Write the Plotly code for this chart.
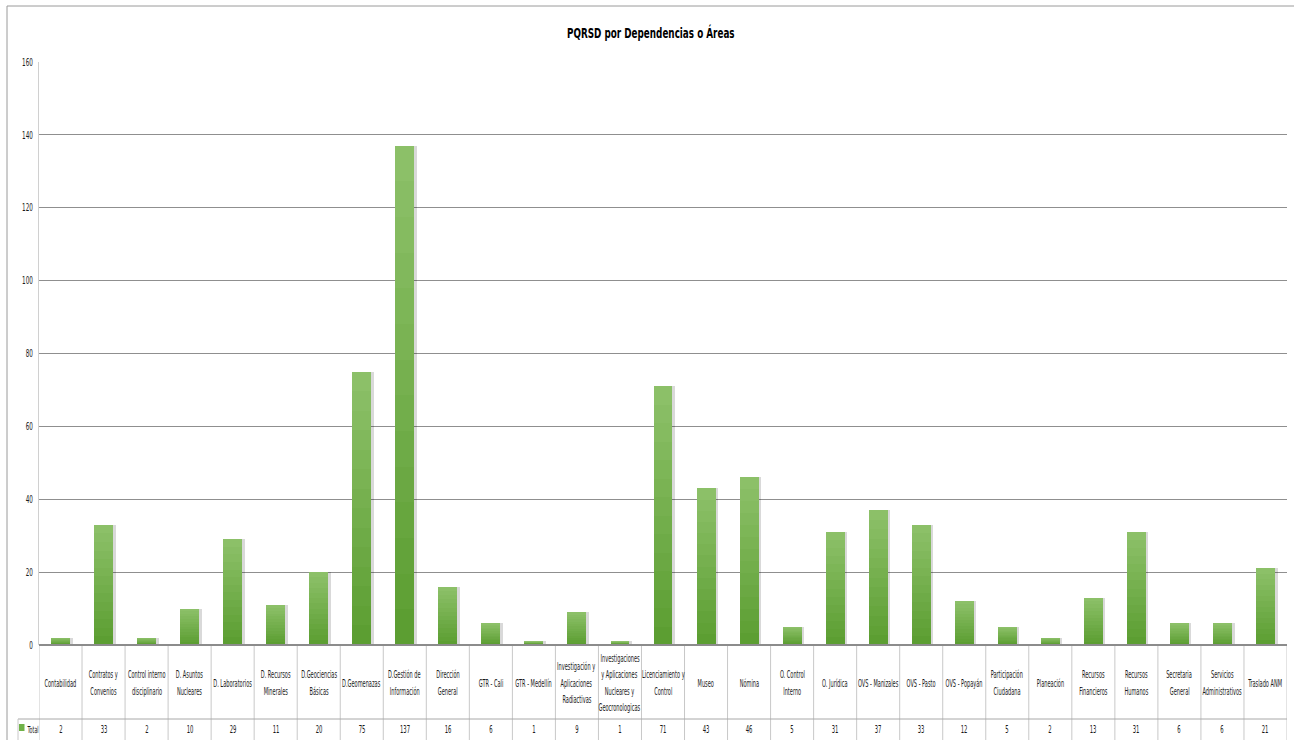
import json
import plotly.graph_objects as go

# PQRSD requests by office / area
categories = [
    "Contabilidad", "Contratos y<br>Convenios", "Control interno<br>disciplinario",
    "D. Asuntos<br>Nucleares", "D. Laboratorios", "D. Recursos<br>Minerales",
    "D.Geociencias<br>Básicas", "D.Geomenazas", "D.Gestión de<br>Información",
    "Dirección<br>General", "GTR - Cali", "GTR - Medellín",
    "Investigación y<br>Aplicaciones<br>Radiactivas",
    "Investigaciones<br>y Aplicaciones<br>Nucleares y<br>Geocronologicas",
    "Licenciamiento y<br>Control", "Museo", "Nómina", "O. Control<br>Interno",
    "O. Jurídica", "OVS - Manizales", "OVS - Pasto", "OVS - Popayán",
    "Participación<br>Ciudadana", "Planeación", "Recursos<br>Financieros",
    "Recursos<br>Humanos", "Secretaria<br>General", "Servicios<br>Administrativos",
    "Traslado ANM",
]
totals = [2, 33, 2, 10, 29, 11, 20, 75, 137, 16, 6, 1, 9, 1, 71, 43, 46, 5,
          31, 37, 33, 12, 5, 2, 13, 31, 6, 6, 21]
series_name = "Total"
chart_title = "PQRSD por Dependencias o Áreas"
y_ticks = [0, 20, 40, 60, 80, 100, 120, 140, 160]

W, H = 1294, 740
FONT = "Liberation Sans Narrow, Arial Narrow, DejaVu Sans Condensed, sans-serif"

# horizontal squeeze applied to the rendered text (narrow, Calibri-like look)
TEXT_SQUEEZE = 0.56
TITLE_SQUEEZE = 0.70
TICK_SQUEEZE = 0.60


def px(x):
    return x / W


def py(y):
    return 1 - y / H


PLOT_L, PLOT_R, PLOT_T, PLOT_B = 39, 1287, 62, 645
TABLE_ROW, TABLE_BOTTOM, LEGEND_L = 719, 740, 18
LABEL_MID, LABEL_STEP, VALUE_MID = 683, 16.5, 729

n = len(categories)
xs = list(range(n))
bar_w = 0.44

fig = go.Figure()

# soft drop shadow behind each column
fig.add_trace(go.Bar(
    x=xs, y=totals, width=bar_w, offset=-bar_w / 2 + 0.06,
    marker=dict(color="rgba(0,0,0,0.15)", line=dict(width=0)),
    showlegend=False, hoverinfo="skip",
))

# vertical green gradient: stacked overlays, lighter at the top
top_rgb = (140, 192, 104)
bot_rgb = (92, 158, 50)
steps = 14
for k in range(steps):
    t = k / (steps - 1)
    c = tuple(round(top_rgb[i] + (bot_rgb[i] - top_rgb[i]) * t) for i in range(3))
    frac = (steps - k) / steps
    fig.add_trace(go.Bar(
        x=xs, y=[v * frac for v in totals], width=bar_w,
        marker=dict(color=f"rgb{c}", line=dict(width=0)),
        name=series_name, showlegend=False,
        hovertext=[f"{categories[i].replace('<br>', ' ')}: {totals[i]}" for i in xs],
        hoverinfo="text",
    ))

shapes = []
line_grey = "#c8c8c8"
# outer chart frame
shapes.append(dict(type="line", xref="paper", yref="paper",
                   x0=px(7), x1=px(7), y0=py(6), y1=0,
                   line=dict(color="#9a9a9a", width=1)))
shapes.append(dict(type="line", xref="paper", yref="paper",
                   x0=px(7), x1=1, y0=py(6), y1=py(6),
                   line=dict(color="#9a9a9a", width=1)))
# data table grid
for i in range(n + 1):
    shapes.append(dict(type="line", xref="x", yref="paper",
                       x0=i - 0.5, x1=i - 0.5, y0=py(PLOT_B), y1=py(TABLE_BOTTOM),
                       line=dict(color=line_grey, width=1)))
shapes.append(dict(type="line", xref="paper", yref="paper",
                   x0=px(LEGEND_L), x1=px(PLOT_R), y0=py(TABLE_ROW), y1=py(TABLE_ROW),
                   line=dict(color="#a8a8a8", width=1)))
shapes.append(dict(type="line", xref="paper", yref="paper",
                   x0=px(LEGEND_L), x1=px(LEGEND_L), y0=py(TABLE_ROW), y1=py(TABLE_BOTTOM),
                   line=dict(color=line_grey, width=1)))
# legend key swatch
shapes.append(dict(type="rect", xref="paper", yref="paper",
                   x0=px(19), x1=px(24.5), y0=py(724), y1=py(731),
                   fillcolor="rgb(112,178,72)", line=dict(width=0)))
# zero line over the table header
shapes.append(dict(type="line", xref="paper", yref="paper",
                   x0=px(PLOT_L), x1=px(PLOT_R), y0=py(PLOT_B), y1=py(PLOT_B),
                   line=dict(color="#8c8c8c", width=2)))

annotations = []
squeeze = []  # (factor, anchor) for each annotation, in order

annotations.append(dict(
    text=f"<b>{chart_title}</b>", xref="paper", yref="paper",
    x=px(651), y=py(32.5), xanchor="center", yanchor="middle", showarrow=False,
    font=dict(family=FONT, size=14, color="#000000"),
))
squeeze.append((TITLE_SQUEEZE, "middle"))

for i, (cat, v) in enumerate(zip(categories, totals)):
    lines = cat.split("<br>")
    for j, line in enumerate(lines):
        ymid = LABEL_MID + (j - (len(lines) - 1) / 2) * LABEL_STEP
        annotations.append(dict(
            text=line, x=i, y=py(ymid), xref="x", yref="paper",
            xanchor="center", yanchor="middle", showarrow=False,
            font=dict(family=FONT, size=10, color="#1a1a1a"),
        ))
        squeeze.append((TEXT_SQUEEZE, "middle"))
    annotations.append(dict(
        text=str(v), x=i, y=py(VALUE_MID), xref="x", yref="paper",
        xanchor="center", yanchor="middle", showarrow=False,
        font=dict(family=FONT, size=10.5, color="#1a1a1a"),
    ))
    squeeze.append((TEXT_SQUEEZE, "middle"))

annotations.append(dict(
    text=series_name, xref="paper", yref="paper", x=px(25), y=py(VALUE_MID),
    xanchor="left", yanchor="middle", showarrow=False,
    font=dict(family=FONT, size=9.5, color="#1a1a1a"),
))
squeeze.append((TEXT_SQUEEZE, "start"))

fig.update_layout(
    width=W, height=H,
    margin=dict(l=0, r=0, t=0, b=0, pad=0, autoexpand=False),
    paper_bgcolor="white", plot_bgcolor="white",
    barmode="overlay", bargap=0,
    showlegend=False,
    shapes=shapes, annotations=annotations,
    xaxis=dict(
        domain=[px(PLOT_L), px(PLOT_R)], range=[-0.5, n - 0.5],
        showticklabels=False, showgrid=False, zeroline=False,
        showline=False, ticks="", fixedrange=True, automargin=False,
    ),
    yaxis=dict(
        domain=[py(PLOT_B), py(PLOT_T)], range=[0, 160],
        tickvals=y_ticks, ticktext=[str(t) for t in y_ticks],
        tickfont=dict(family=FONT, size=10.5, color="#1a1a1a"),
        showgrid=True, gridcolor="#8f8f8f", gridwidth=1,
        zeroline=False, showline=True, linecolor="#d0d0d0", linewidth=1,
        ticks="", ticklabelstandoff=3, fixedrange=True, automargin=False,
    ),
)

# narrow the rendered glyphs horizontally around each text's anchor point
post_js = """
document.body.style.margin = '0';
var gd = document.getElementById('{plot_id}');
var squeeze = %s;
function narrow(el, s, mode) {
  var b = el.getBBox();
  var cx = mode === 'end' ? b.x + b.width : (mode === 'start' ? b.x : b.x + b.width / 2);
  var t = el.getAttribute('transform') || '';
  el.setAttribute('transform', t + ' translate(' + cx + ',0) scale(' + s + ',1) translate(' + (-cx) + ',0)');
}
gd.querySelectorAll('g.annotation').forEach(function(g) {
  var idx = parseInt(g.getAttribute('data-index'));
  var txt = g.querySelector('text.annotation-text');
  if (txt && squeeze[idx]) { narrow(txt, squeeze[idx][0], squeeze[idx][1]); }
});
gd.querySelectorAll('.ytick text').forEach(function(el) { narrow(el, %s, 'end'); });
""" % (json.dumps(squeeze), TICK_SQUEEZE)

fig.write_html("out.html", post_script=post_js, config={"responsive": False})
